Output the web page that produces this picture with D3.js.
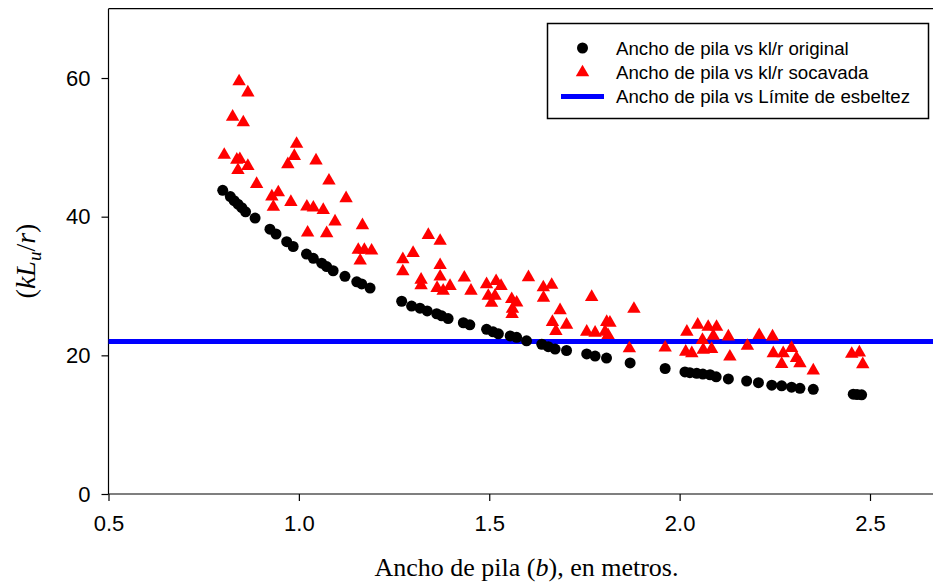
<!DOCTYPE html>
<html>
<head>
<meta charset="utf-8">
<script src="https://cdn.jsdelivr.net/npm/d3@7"></script>
<style>
  html, body { margin: 0; padding: 0; background: #fff; overflow: hidden; }
  svg { display: block; }
</style>
</head>
<body>
<svg id="chart" width="933" height="586"></svg>
<script>
// Pier width (m) vs slenderness kLu/r, original section
const originalWidth = [0.80,0.82,0.83,0.84,0.85,0.86,0.885,0.924,0.94,0.968,0.985,1.02,1.038,1.06,1.073,1.09,1.121,1.152,1.165,1.187,
  1.27,1.296,1.318,1.337,1.362,1.375,1.392,1.432,1.449,1.493,1.51,1.524,1.555,1.572,1.598,1.638,1.655,1.673,1.703,1.756,1.778,1.808,
  1.87,1.962,2.014,2.027,2.045,2.061,2.08,2.096,2.128,2.176,2.207,2.242,2.268,2.294,2.316,2.351,2.456,2.466,2.478];
const originalKlr = [43.8,42.9,42.3,41.8,41.3,40.7,39.8,38.2,37.5,36.4,35.7,34.6,34.0,33.3,32.8,32.2,31.4,30.6,30.3,29.7,
  27.8,27.1,26.8,26.4,26.0,25.7,25.3,24.7,24.4,23.75,23.4,23.1,22.8,22.6,22.1,21.6,21.25,20.9,20.7,20.2,19.9,19.6,
  18.9,18.1,17.6,17.5,17.4,17.3,17.2,16.9,16.6,16.3,16.05,15.7,15.6,15.4,15.25,15.1,14.4,14.35,14.3];

// Pier width (m) vs slenderness kLu/r, scoured section
const scouredWidth = [0.843,0.866,0.826,0.854,0.804,0.837,0.845,0.84,0.866,0.889,0.929,0.946,0.933,0.979,0.994,0.988,0.971,1.045,1.079,1.124,
  1.021,1.038,1.064,1.095,1.023,1.073,1.167,1.156,1.172,1.191,1.161,
  1.273,1.30,1.273,1.34,1.371,1.371,1.371,1.321,1.321,1.363,1.379,1.397,1.4345,1.452,1.493,1.518,1.531,1.4975,1.515,1.506,
  1.559,1.572,1.561,1.56,1.603,1.642,1.664,1.6425,1.686,1.666,1.703,1.675,1.769,1.756,1.778,1.8085,1.817,1.804,1.812,
  1.88,1.868,1.962,2.019,2.0475,2.075,2.097,2.016,2.032,2.06,2.062,2.084,2.0885,2.128,2.132,2.178,2.209,2.244,2.246,
  2.272,2.268,2.294,2.307,2.316,2.351,2.452,2.472,2.481];
const scouredKlr = [59.5,57.9,54.4,53.6,48.9,48.2,48.3,46.7,47.3,44.7,42.9,43.5,41.4,42.1,50.5,48.75,47.55,48.1,45.2,42.65,
  41.45,41.3,40.96,39.3,37.7,37.6,38.75,35.2,35.2,35.1,33.65,
  33.85,34.75,32.1,37.35,36.5,33.0,31.35,30.9,30.1,29.7,29.3,30.0,31.2,29.3,30.25,30.7,30.0,28.56,28.56,27.55,
  28.1,27.6,26.7,25.95,31.25,29.8,30.15,28.3,26.5,24.8,24.4,23.5,28.4,23.4,23.25,24.8,24.7,23.4,22.9,
  26.7,21.0,21.1,23.4,24.4,24.1,24.1,20.5,20.3,22.2,20.8,20.9,22.8,22.7,19.8,21.35,22.9,22.7,20.3,
  20.3,18.75,21.05,19.6,18.85,17.8,20.2,20.4,18.7];

// Slenderness limit
const slendernessLimit = 22;

const xTicks = [0.5, 1.0, 1.5, 2.0, 2.5];
const yTicks = [0, 20, 40, 60];
const legendLabels = [
  "Ancho de pila vs kl/r original",
  "Ancho de pila vs kl/r socavada",
  "Ancho de pila vs Límite de esbeltez"
];

const svg = d3.select("#chart");
const left = 108.5, bottom = 494;
const x = d3.scaleLinear().domain([0.5, 2.7]).range([left, left + 2.2 * 380.75]);
const y = d3.scaleLinear().domain([0, 70]).range([bottom, bottom - 70 * 6.933]);

const sans = "'Liberation Sans', Arial, sans-serif";
const serif = "'Liberation Serif', 'Times New Roman', serif";

// Frame: top border
svg.append("line")
  .attr("x1", x(0.5)).attr("x2", x(2.7))
  .attr("y1", y(70)).attr("y2", y(70))
  .attr("stroke", "#000").attr("stroke-width", 1.2);

// Axes
const yAxis = svg.append("g")
  .attr("transform", `translate(${left},0)`)
  .call(d3.axisLeft(y).tickValues(yTicks).tickSize(7).tickSizeOuter(0).tickPadding(11));
const xAxis = svg.append("g")
  .attr("transform", `translate(0,${bottom})`)
  .call(d3.axisBottom(x).tickValues(xTicks).tickFormat(d3.format(".1f")).tickSize(7).tickSizeOuter(0).tickPadding(14));

[yAxis, xAxis].forEach(g => {
  g.select(".domain").attr("stroke", "#000").attr("stroke-width", 1.2);
  g.selectAll(".tick line").attr("stroke", "#000").attr("stroke-width", 1.2);
  g.selectAll(".tick text").attr("fill", "#000")
    .style("font-family", sans).style("font-size", "22px");
});
// extend the y domain line to the top border
yAxis.select(".domain").attr("d", `M0,${y(0)}V${y(70)}`);
xAxis.select(".domain").attr("d", `M${x(0.5)},0H${x(2.7)}`);

// Slenderness limit line
svg.append("line")
  .attr("x1", x(0.5)).attr("x2", x(2.7))
  .attr("y1", y(slendernessLimit)).attr("y2", y(slendernessLimit))
  .attr("stroke", "#0000ff").attr("stroke-width", 5);

// Original series (black circles)
svg.append("g").selectAll("circle")
  .data(d3.zip(originalWidth, originalKlr))
  .join("circle")
  .attr("cx", d => x(d[0])).attr("cy", d => y(d[1]))
  .attr("r", 5.5).attr("fill", "#000");

// Scoured series (red triangles)
const tri = d3.symbol().type(d3.symbolTriangle).size(78);
svg.append("g").selectAll("path")
  .data(d3.zip(scouredWidth, scouredKlr))
  .join("path")
  .attr("d", tri)
  .attr("transform", d => `translate(${x(d[0])},${y(d[1])})`)
  .attr("fill", "#ff0000");

// Legend
const lg = svg.append("g");
lg.append("rect")
  .attr("x", 547.5).attr("y", 23.5).attr("width", 381).attr("height", 95)
  .attr("fill", "#fff").attr("stroke", "#000").attr("stroke-width", 1.5);
const rowsY = [48, 72.5, 96.5];
lg.append("circle").attr("cx", 582.5).attr("cy", rowsY[0]).attr("r", 5.5).attr("fill", "#000");
lg.append("path").attr("d", tri).attr("transform", `translate(582.5,${rowsY[1]})`).attr("fill", "#ff0000");
lg.append("line").attr("x1", 561).attr("x2", 604).attr("y1", rowsY[2]).attr("y2", rowsY[2])
  .attr("stroke", "#0000ff").attr("stroke-width", 5);
lg.selectAll("text.lbl").data(legendLabels).join("text")
  .attr("class", "lbl")
  .attr("x", 616).attr("y", (d, i) => rowsY[i])
  .attr("dy", "0.35em")
  .style("font-family", sans).style("font-size", "18.7px")
  .text(d => d);

// X axis title
const xt = svg.append("text")
  .attr("x", 526.5).attr("y", 576)
  .attr("text-anchor", "middle")
  .style("font-family", serif).style("font-size", "26px");
xt.append("tspan").text("Ancho de pila (");
xt.append("tspan").style("font-style", "italic").text("b");
xt.append("tspan").text("), en metros.");

// Y axis title
const yt = svg.append("text")
  .attr("transform", "translate(35,261) rotate(-90)")
  .attr("text-anchor", "middle")
  .style("font-family", serif).style("font-size", "28px");
yt.append("tspan").text("(");
yt.append("tspan").style("font-style", "italic").text("kL");
yt.append("tspan").style("font-style", "italic").style("font-size", "19px").attr("dy", 6).text("u");
yt.append("tspan").attr("dy", -6).text("/");
yt.append("tspan").style("font-style", "italic").text("r");
yt.append("tspan").text(")");
</script>
</body>
</html>
